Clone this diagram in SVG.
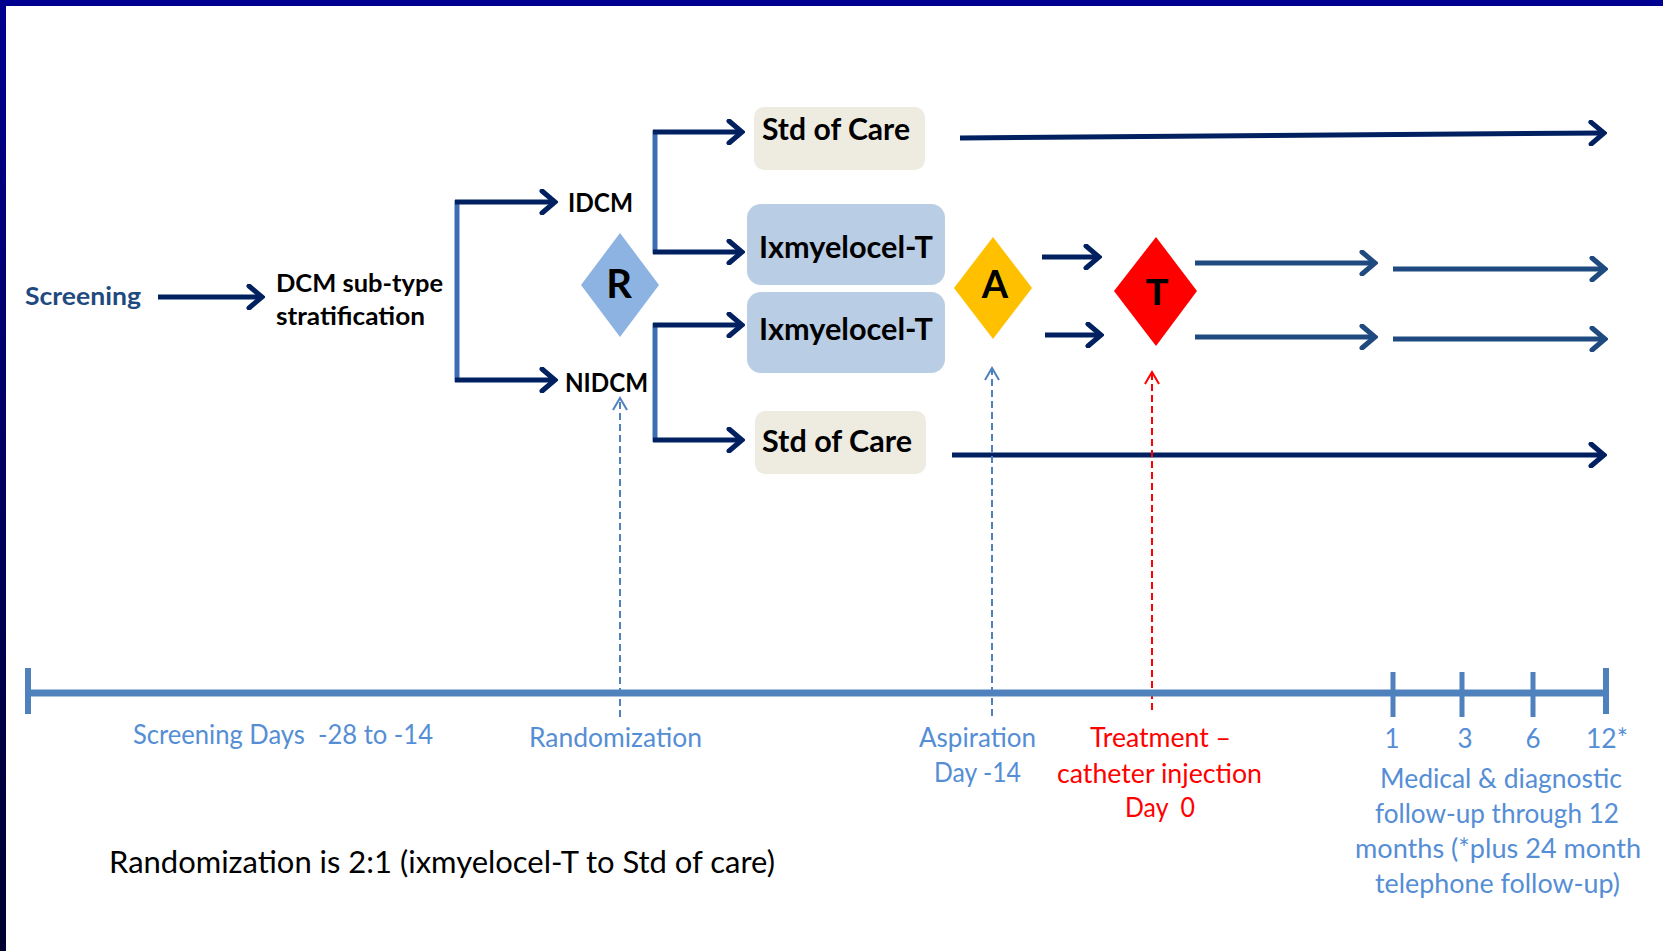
<svg xmlns="http://www.w3.org/2000/svg" width="1663" height="951" viewBox="0 0 1663 951">
<defs>
<linearGradient id="lg" x1="0" y1="0" x2="0" y2="1">
<stop offset="0" stop-color="#000090"/>
<stop offset="1" stop-color="#000030"/>
</linearGradient>
<marker id="mNavy" markerUnits="userSpaceOnUse" viewBox="-16 -13 19 26" refX="0" refY="0" markerWidth="19" markerHeight="26" orient="auto">
<path d="M-13,-11 L0,0 L-13,11" fill="none" stroke="#002060" stroke-width="5" stroke-linecap="round" stroke-linejoin="miter"/>
</marker>
<marker id="mSteel" markerUnits="userSpaceOnUse" viewBox="-16 -13 19 26" refX="0" refY="0" markerWidth="19" markerHeight="26" orient="auto">
<path d="M-13,-11 L0,0 L-13,11" fill="none" stroke="#1f4a80" stroke-width="5" stroke-linecap="round"/>
</marker>
<marker id="mBlueD" markerUnits="userSpaceOnUse" viewBox="-13 -9 15 18" refX="0" refY="0" markerWidth="15" markerHeight="18" orient="auto">
<path d="M-12,-7 L0,0 L-12,7" fill="none" stroke="#4f81bd" stroke-width="2"/>
</marker>
<marker id="mRedD" markerUnits="userSpaceOnUse" viewBox="-13 -9 15 18" refX="0" refY="0" markerWidth="15" markerHeight="18" orient="auto">
<path d="M-12,-7 L0,0 L-12,7" fill="none" stroke="#ff0000" stroke-width="2"/>
</marker>
</defs>
<style>
.navy{fill:none;stroke:#002060;stroke-width:5;marker-end:url(#mNavy)}
.steel{fill:none;stroke:#1f4a80;stroke-width:5;marker-end:url(#mSteel)}
.vert{fill:none;stroke:#3d6db2;stroke-width:5}
.dashB{fill:none;stroke:#4f81bd;stroke-width:2;stroke-dasharray:7 4;marker-end:url(#mBlueD)}
.dashR{fill:none;stroke:#ff0000;stroke-width:2;stroke-dasharray:7 4;marker-end:url(#mRedD)}
.tl{stroke:#4f81bd;fill:none}
.b{font-family:Lato,"Liberation Sans",sans-serif;font-weight:bold;fill:#000}
.lbl{font-family:Lato,"Liberation Sans",sans-serif;font-size:26px;fill:#558ed5}
.red{fill:#ff0000}
.box{font-family:Lato,"Liberation Sans",sans-serif;font-weight:bold;font-size:30px;fill:#000}
</style>
<rect width="1663" height="951" fill="#ffffff"/>
<rect x="0" y="0" width="1663" height="6" fill="#000090"/>
<rect x="0" y="0" width="6" height="951" fill="url(#lg)"/>

<g id="connectors">
<line class="navy" x1="158" y1="297" x2="262" y2="297"/>
<line class="vert" x1="457" y1="200" x2="457" y2="382"/>
<line class="navy" x1="455" y1="202" x2="555" y2="202"/>
<line class="navy" x1="455" y1="380" x2="555" y2="380"/>
<line class="vert" x1="655" y1="130" x2="655" y2="254"/>
<line class="navy" x1="653" y1="132" x2="742" y2="132"/>
<line class="navy" x1="653" y1="252" x2="742" y2="252"/>
<line class="vert" x1="655" y1="323" x2="655" y2="442"/>
<line class="navy" x1="653" y1="325" x2="742" y2="325"/>
<line class="navy" x1="653" y1="440" x2="742" y2="440"/>
<line class="navy" x1="960" y1="138" x2="1604" y2="133"/>
<line class="navy" x1="952" y1="455" x2="1604" y2="455"/>
<line class="navy" x1="1042" y1="257" x2="1099" y2="257"/>
<line class="navy" x1="1045" y1="335" x2="1101" y2="335"/>
<line class="steel" x1="1195" y1="263" x2="1375" y2="263"/>
<line class="steel" x1="1393" y1="269" x2="1605" y2="269"/>
<line class="steel" x1="1195" y1="337" x2="1375" y2="337"/>
<line class="steel" x1="1393" y1="339" x2="1605" y2="339"/>
<line class="dashB" x1="620" y1="717" x2="620" y2="398"/>
<line class="dashB" x1="992" y1="716" x2="992" y2="368"/>
<line class="dashR" x1="1152" y1="710" x2="1152" y2="372"/>
</g>

<g id="screening"><text class="b" x="25" y="305" font-size="25" textLength="116" lengthAdjust="spacingAndGlyphs" style="fill:#1f4a80">Screening</text></g>
<g id="dcm">
<text class="b" x="276" y="292" font-size="25" textLength="167" lengthAdjust="spacingAndGlyphs">DCM sub-type</text>
<text class="b" x="276" y="325" font-size="25" textLength="149" lengthAdjust="spacingAndGlyphs">stratification</text>
</g>
<g id="idcm"><text class="b" x="568" y="212" font-size="26" textLength="65" lengthAdjust="spacingAndGlyphs">IDCM</text></g>
<g id="nidcm"><text class="b" x="565" y="392" font-size="26" textLength="83" lengthAdjust="spacingAndGlyphs">NIDCM</text></g>
<g id="R">
<polygon points="620,233 659,285 620,337 581,285" fill="#8db3e2"/>
<text class="b" x="619" y="298" font-size="40" text-anchor="middle">R</text>
</g>
<g id="soc1">
<rect x="754" y="107" width="171" height="63" rx="10" fill="#eeece1"/>
<text class="box" x="762" y="140" textLength="148" lengthAdjust="spacingAndGlyphs">Std of Care</text>
</g>
<g id="ixmy1">
<rect x="747" y="204" width="198" height="81" rx="14" fill="#b9cde5"/>
<text class="box" x="759" y="258" textLength="174" lengthAdjust="spacingAndGlyphs">Ixmyelocel-T</text>
</g>
<g id="ixmy2">
<rect x="747" y="292" width="198" height="81" rx="14" fill="#b9cde5"/>
<text class="box" x="759" y="340" textLength="174" lengthAdjust="spacingAndGlyphs">Ixmyelocel-T</text>
</g>
<g id="soc2">
<rect x="755" y="411" width="171" height="63" rx="10" fill="#eeece1"/>
<text class="box" x="762" y="452" textLength="150" lengthAdjust="spacingAndGlyphs">Std of Care</text>
</g>
<g id="A">
<polygon points="993,237 1032,288 993,339 954,288" fill="#ffc000"/>
<text class="b" x="995" y="298" font-size="38" text-anchor="middle">A</text>
</g>
<g id="T">
<polygon points="1156,237 1197,291 1156,346 1114,291" fill="#ff0000"/>
<text x="1157" y="305" font-family="'Liberation Sans',Arial,sans-serif" font-weight="bold" font-size="37" text-anchor="middle" fill="#000">T</text>
</g>

<g id="timeline">
<line class="tl" x1="28" y1="693" x2="1606" y2="693" stroke-width="7"/>
<line class="tl" x1="28" y1="668" x2="28" y2="714" stroke-width="6"/>
<line class="tl" x1="1393" y1="672" x2="1393" y2="717" stroke-width="5"/>
<line class="tl" x1="1462" y1="672" x2="1462" y2="717" stroke-width="5"/>
<line class="tl" x1="1533" y1="672" x2="1533" y2="717" stroke-width="5"/>
<line class="tl" x1="1606" y1="668" x2="1606" y2="714" stroke-width="6"/>
</g>

<g id="timeline-labels">
<text class="lbl" x="133" y="744" textLength="300" lengthAdjust="spacingAndGlyphs" style="white-space:pre">Screening Days  -28 to -14</text>
<text class="lbl" x="529" y="747" textLength="173" lengthAdjust="spacingAndGlyphs">Randomization</text>
<text class="lbl" x="919" y="747" textLength="117" lengthAdjust="spacingAndGlyphs">Aspiration</text>
<text class="lbl" x="934" y="782" textLength="87" lengthAdjust="spacingAndGlyphs">Day -14</text>
<text class="lbl red" x="1090" y="747" textLength="141" lengthAdjust="spacingAndGlyphs">Treatment –</text>
<text class="lbl red" x="1057" y="783" textLength="205" lengthAdjust="spacingAndGlyphs">catheter injection</text>
<text class="lbl red" x="1125" y="817" textLength="70" lengthAdjust="spacingAndGlyphs" style="white-space:pre">Day  0</text>
<text class="lbl" x="1392" y="748" text-anchor="middle">1</text>
<text class="lbl" x="1465" y="748" text-anchor="middle">3</text>
<text class="lbl" x="1533" y="748" text-anchor="middle">6</text>
<text class="lbl" x="1586" y="748" textLength="42" lengthAdjust="spacingAndGlyphs">12*</text>
<text class="lbl" x="1380" y="788" textLength="242" lengthAdjust="spacingAndGlyphs">Medical &amp; diagnostic</text>
<text class="lbl" x="1375" y="823" textLength="244" lengthAdjust="spacingAndGlyphs">follow-up through 12</text>
<text class="lbl" x="1355" y="858" textLength="286" lengthAdjust="spacingAndGlyphs">months (*plus 24 month</text>
<text class="lbl" x="1375" y="893" textLength="245" lengthAdjust="spacingAndGlyphs">telephone follow-up)</text>
</g>

<g id="note"><text x="109" y="873" font-family="Lato,'Liberation Sans',sans-serif" font-size="30" fill="#000" textLength="666" lengthAdjust="spacingAndGlyphs">Randomization is 2:1 (ixmyelocel-T to Std of care)</text></g>
</svg>
